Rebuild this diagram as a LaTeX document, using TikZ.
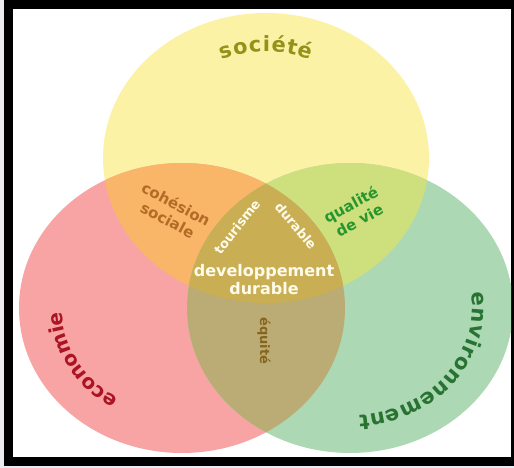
\documentclass[tikz,border=0pt]{standalone}
\usepackage{fontspec}
\setmainfont{DejaVu Sans}
\usetikzlibrary{decorations.text}
\definecolor{cY}{RGB}{252,242,166}
\definecolor{cR}{RGB}{248,164,164}
\definecolor{cG}{RGB}{172,216,180}
\definecolor{cYR}{RGB}{249,182,104}
\definecolor{cYG}{RGB}{206,224,126}
\definecolor{cRG}{RGB}{186,172,116}
\definecolor{cYRG}{RGB}{201,174,84}
\definecolor{tSoc}{RGB}{150,145,25}
\definecolor{tCoh}{RGB}{178,108,38}
\definecolor{tQual}{RGB}{40,150,45}
\definecolor{tEq}{RGB}{135,100,30}
\definecolor{tEco}{RGB}{170,20,35}
\definecolor{tEnv}{RGB}{40,115,50}
\definecolor{bgGrey}{RGB}{236,236,240}
\definecolor{txtW}{RGB}{255,252,235}
\begin{document}
\begin{tikzpicture}[x=1pt,y=1pt,
  er/.style={x radius=163, y radius=145},
  lbl/.style={font=\bfseries\fontsize{15}{18}\selectfont, inner sep=0pt, align=center},
  sml/.style={font=\bfseries\fontsize{13}{15}\selectfont, inner sep=0pt, align=center},
  big/.style={font=\bfseries\fontsize{16}{18}\selectfont, inner sep=0pt, align=center},
]
\useasboundingbox (0,0) rectangle (514,468);
% frame
\fill[bgGrey] (0,0) rectangle (514,468);
\fill[black] (4,2) rectangle (514,468);
\fill[white] (13,11) rectangle (511,459);
% centres
\coordinate (cy) at (266,310);
\coordinate (cr) at (182,160);
\coordinate (cg) at (350,160);
\begin{scope}
  \clip (13,11) rectangle (511,459);
  \fill[cY] (cy) ellipse [er];
  \fill[cR] (cr) ellipse [er];
  \fill[cG] (cg) ellipse [er];
  \begin{scope}
    \clip (cy) ellipse [er];
    \fill[cYR] (cr) ellipse [er];
    \fill[cYG] (cg) ellipse [er];
  \end{scope}
  \begin{scope}
    \clip (cr) ellipse [er];
    \fill[cRG] (cg) ellipse [er];
  \end{scope}
  \begin{scope}
    \clip (cy) ellipse [er];
    \clip (cr) ellipse [er];
    \fill[cYRG] (cg) ellipse [er];
  \end{scope}
\end{scope}
% curved titles
\path[decorate, decoration={text along path, text align=fit to path,
  text={|\bfseries\fontsize{21}{24}\selectfont\color{tSoc}|société}}]
  (cy) ++(112:119 and 106) arc [start angle=112, end angle=68, x radius=119, y radius=106];
\path[decorate, decoration={text along path, text align=fit to path,
  text={|\bfseries\fontsize{20}{24}\selectfont\color{tEco}|economie}}]
  (cr) ++(238:120 and 107) arc [start angle=238, end angle=182, x radius=120, y radius=107];
\path[decorate, decoration={text along path, text align=fit to path,
  text={|\bfseries\fontsize{21}{24}\selectfont\color{tEnv}|environnement}}]
  (cg) ++(8:122 and 108) arc [start angle=8, end angle=-86, x radius=122, y radius=108];
% labels
\node[lbl, text=tCoh, rotate=-28] (coh) at (172,256) {cohésion\\sociale};
\node[lbl, text=tQual, rotate=28] (qual) at (355,256) {qualité\\de vie};
\node[sml, text=txtW, rotate=52] (tour) at (237,241) {tourisme};
\node[sml, text=txtW, rotate=-50] (dur) at (296,242) {durable};
\node[big, text=txtW] (dd) at (264,188) {developpement\\durable};
\node[sml, text=tEq, rotate=-90] (eq) at (264,127) {équité};
\end{tikzpicture}
\end{document}
